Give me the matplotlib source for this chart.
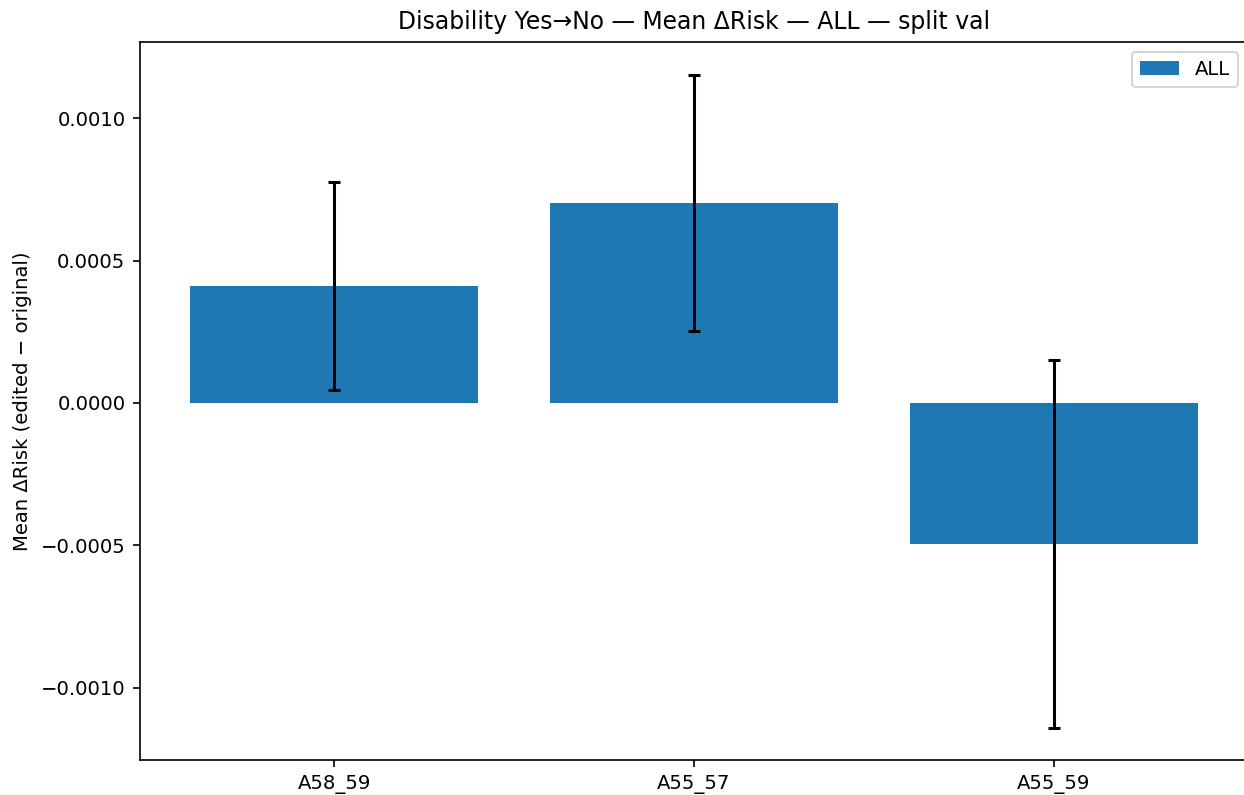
import matplotlib
matplotlib.use("Agg")
from matplotlib import pyplot as plt
import numpy as np

groups = ['A58_59', 'A55_57', 'A55_59']
mean_delta = [0.000411, 0.000702, -0.000495]
err_delta = [0.000365, 0.000449, 0.000645]

plt.rcParams['font.size'] = 9.43

fig = plt.figure(figsize=(1244 / 150, 795 / 150), dpi=150)
ax = fig.add_axes([140 / 1244, 35 / 795, 1108 / 1244, 718 / 795])

x = np.arange(len(groups))
ax.bar(x, mean_delta, width=0.8, color='#1f77b4', label='ALL')
ax.errorbar(x, mean_delta, yerr=err_delta, fmt='none', ecolor='black',
            elinewidth=1.45, capsize=3, capthick=1.45)

ax.set_xticks(x)
ax.set_xticklabels(groups)
ax.set_xlim(-0.54, 2.54)
ax.set_ylim(-0.001253, 0.001267)
ax.set_yticks([-0.001, -0.0005, 0.0, 0.0005, 0.001])
ax.set_yticklabels(['\u22120.0010', '\u22120.0005', '0.0000', '0.0005', '0.0010'])
ax.set_ylabel('Mean \u0394Risk (edited \u2212 original)')
ax.set_title('Disability Yes\u2192No \u2014 Mean \u0394Risk \u2014 ALL \u2014 split val', fontsize=11.3)
ax.legend(loc='upper right')

fig.savefig('out.png', dpi=150)
plt.close(fig)
